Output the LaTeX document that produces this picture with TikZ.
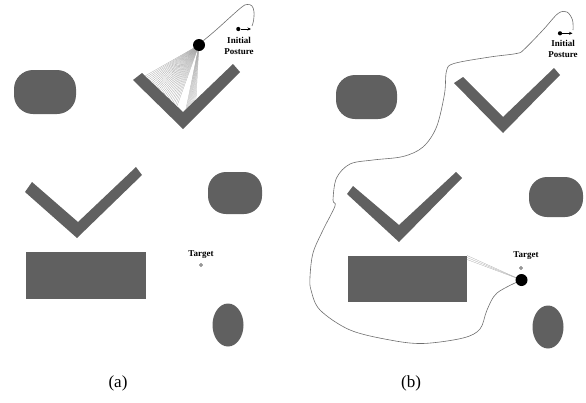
\documentclass[tikz,border=0pt]{standalone}
\usepackage{fontspec}
\setmainfont{Liberation Serif}
\usetikzlibrary{calc,arrows.meta}
\definecolor{obst}{RGB}{96,96,96}
\definecolor{beam}{RGB}{165,165,165}
\definecolor{trailgray}{RGB}{110,110,110}
\tikzset{
  obstacle/.style={fill=obst, draw=none},
  robot/.style={circle, fill=black, inner sep=0pt, minimum size=12pt},
  beamline/.style={draw=beam, line width=0.25pt},
  trail/.style={draw=trailgray, line width=0.6pt},
  startdot/.style={circle, fill=black, inner sep=0pt, minimum size=4.2pt},
  headingarrow/.style={-{Stealth[length=3.5pt,width=3pt]}, line width=0.6pt},
  goaldot/.style={circle, draw=black!60, fill=black!35, inner sep=0pt, minimum size=3.2pt},
  smalllabel/.style={font=\fontsize{9}{11}\selectfont\bfseries, align=center, inner sep=0pt},
  caption/.style={font=\fontsize{17}{19}\selectfont, inner sep=0pt}
}
\begin{document}
\begin{tikzpicture}[x=1pt,y=-1pt]
\useasboundingbox (0,0) rectangle (586,402);

% ---------- panel (a): obstacles ----------
\fill[obstacle, rounded corners=19] (14,70) rectangle (76,114);
\fill[obstacle] (133,80) -- (183,129) -- (240,72) -- (233,64) -- (183,112) -- (142,73) -- cycle;
\fill[obstacle] (25,192) -- (77,238) -- (142,175) -- (136,167) -- (78,222) -- (32,182) -- cycle;
\fill[obstacle] (26,252) rectangle (146,299);
\fill[obstacle, rounded corners=18] (208,172) rectangle (262,214);
\fill[obstacle] (228,325) ellipse [x radius=15.5, y radius=21.5];

% ---------- panel (a): robot with sensor beams ----------
\coordinate (robA) at (199,45);
\foreach \t in {0,0.04,...,1.0}
  \draw[beamline] (robA) -- ($(145,76)!\t!(177,106)$);
\foreach \t in {0,0.1,...,1.0}
  \draw[beamline] (robA) -- ($(186,109)!\t!(197,99)$);
\node[robot] (ra) at (robA) {};
\node[startdot] (sa) at (238.3,29) {};
\coordinate (sa tip) at (251,29);
\draw[headingarrow] (sa) -- (sa tip);
\draw[trail] plot[smooth, tension=0.6] coordinates
  {(ra.north east) (216,30) (240,8.5) (247,4.5) (252,6) (254,12) (253.5,21) (252,26)};
\node[smalllabel] (inita) at (239,45.5) {Initial\\Posture};
\node[smalllabel] (tga) at (201,255) {Target};
\node[goaldot] (ga) at (201,265) {};
\node[caption] (capa) at (118,383) {(a)};

% ---------- panel (b): obstacles ----------
\fill[obstacle, rounded corners=19] (336,75) rectangle (397,119);
\fill[obstacle] (454,83) -- (503,133) -- (560,75) -- (554,68) -- (503,117) -- (463,77) -- cycle;
\fill[obstacle] (347,194) -- (399,242) -- (462,178) -- (456,172) -- (399,225) -- (353,186) -- cycle;
\fill[obstacle] (348,256) rectangle (467,302);
\fill[obstacle, rounded corners=18] (529,177) rectangle (583,217);
\fill[obstacle] (548,327) ellipse [x radius=15.5, y radius=21.5];

% ---------- panel (b): trajectory and robot at the goal ----------
\coordinate (robB) at (521.5,280);
\foreach \y in {255.5,257.5,259.5}
  \draw[beamline] (robB) -- (467,\y);
\node[startdot] (sb) at (560,33.3) {};
\coordinate (sb tip) at (572.5,33.3);
\draw[headingarrow] (sb) -- (sb tip);
\draw[trail] plot[smooth, tension=0.55] coordinates
  {(robB) (497,293) (487,310) (480,329) (463,338) (423,343.5) (390,340)
   (350,330) (320,310) (311,290) (310,277) (313,253) (323,230) (335,206)
   (333,200) (336.5,178)
   (350,164) (373,160) (403,156.5) (423,147) (436.5,127) (444.5,94)
   (446.5,71) (454,63.5) (490,57) (516.5,53.5) (524,49.5) (543,30)
   (558,13.5) (567,12) (572.5,20) (573,30)};
\node[robot] (rb) at (robB) {};
\node[smalllabel] (initb) at (563,48.5) {Initial\\Posture};
\node[smalllabel] (tgb) at (526,256) {Target};
\node[goaldot] (gb) at (521,268) {};
\node[caption] (capb) at (411,383) {(b)};
\end{tikzpicture}
\end{document}
